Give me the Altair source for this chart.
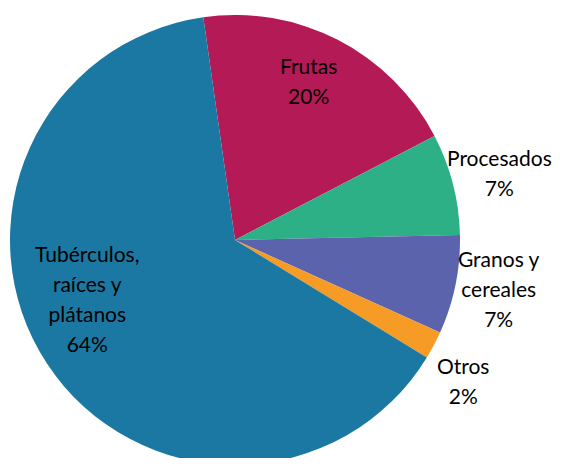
import math
import altair as alt
import pandas as pd

categories = ["Frutas", "Procesados", "Granos y cereales", "Otros", "Tubérculos, raíces y plátanos"]
label_lines = ["Frutas", "Procesados", "Granos y\ncereales", "Otros", "Tubérculos,\nraíces y\nplátanos"]
values = [19.6, 7.3, 7.1, 2.0, 64.0]
colors = ["#B31A56", "#2EB087", "#5B63AD", "#F59B26", "#1A78A2"]

df = pd.DataFrame({
    "categoria": categories,
    "valor": values,
    "orden": list(range(len(categories))),
    "etiqueta": [f"{n}\n{round(v):.0f}%" for n, v in zip(label_lines, values)],
})

start = -8.1 * math.pi / 180
theta_scale = alt.Scale(range=[start, start + 2 * math.pi])
color_scale = alt.Scale(domain=categories, range=colors)

cx, cy, R = 227, 232, 225

base = alt.Chart(df).encode(
    theta=alt.Theta("valor:Q", stack=True, scale=theta_scale),
    order=alt.Order("orden:Q"),
    x=alt.value(cx),
    y=alt.value(cy),
)

pie = base.mark_arc(radius=R).encode(
    color=alt.Color("categoria:N", scale=color_scale, legend=None)
)

label_cfg = {
    "Frutas": dict(radius=170, dx=-4, dy=-21),
    "Procesados": dict(radius=275, dx=-2, dy=-12),
    "Granos y cereales": dict(radius=265, dx=4, dy=-32),
    "Otros": dict(radius=265, dx=-6, dy=4),
    "Tubérculos, raíces y plátanos": dict(radius=160, dx=-14, dy=-72),
}

layers = [pie]
for cat, cfg in label_cfg.items():
    layers.append(
        base.mark_text(
            font="Lato", fontSize=21, color="#000000", lineBreak="\n",
            lineHeight=30, align="center", baseline="middle", **cfg
        ).encode(
            text="etiqueta:N",
            opacity=alt.condition(alt.datum.categoria == cat, alt.value(1), alt.value(0)),
        )
    )

chart = alt.layer(*layers).properties(
    width=548, height=450, padding=0, autosize="none"
).configure_view(stroke=None)

chart.save("out.html", embed_options={"renderer": "svg", "actions": False})
